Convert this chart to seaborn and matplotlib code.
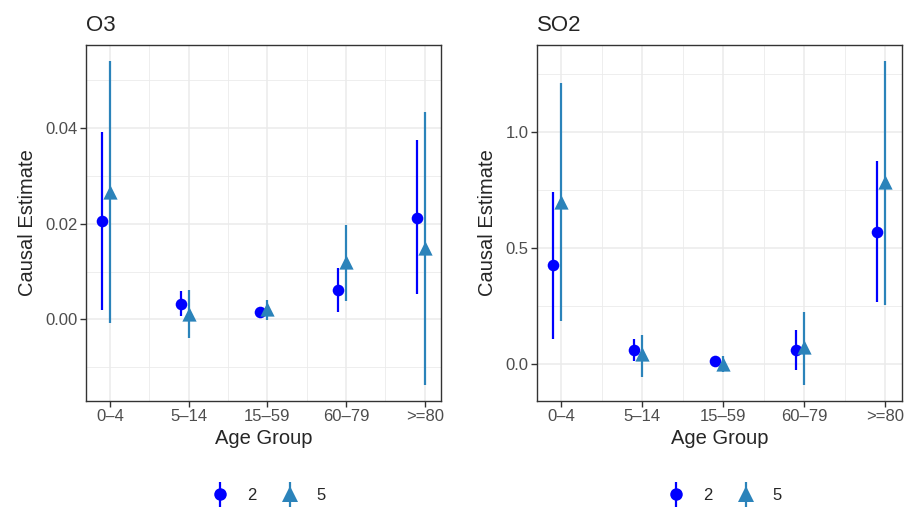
import matplotlib

matplotlib.use("Agg")

import matplotlib.pyplot as plt
import pandas as pd
import seaborn as sns
from matplotlib.legend_handler import HandlerTuple
from matplotlib.lines import Line2D
from matplotlib.ticker import FixedLocator, MultipleLocator, FormatStrFormatter

age_groups = ["0–4", "5–14", "15–59", "60–79", ">=80"]
lags = ["2", "5"]

# O3 estimates and intervals, lag 2 / lag 5
o3_est_2 = [0.0206, 0.0032, 0.0015, 0.0062, 0.0213]
o3_lo_2 = [0.0020, 0.0007, 0.0010, 0.0015, 0.0052]
o3_hi_2 = [0.0392, 0.0059, 0.0020, 0.0108, 0.0375]
o3_est_5 = [0.0267, 0.0012, 0.0022, 0.0119, 0.0150]
o3_lo_5 = [-0.0007, -0.0038, -0.0002, 0.0038, -0.0137]
o3_hi_5 = [0.0540, 0.0061, 0.0041, 0.0198, 0.0434]

# SO2 estimates and intervals, lag 2 / lag 5
so2_est_2 = [0.428, 0.063, 0.014, 0.063, 0.572]
so2_lo_2 = [0.109, 0.013, 0.005, -0.023, 0.269]
so2_hi_2 = [0.745, 0.111, 0.024, 0.147, 0.878]
so2_est_5 = [0.700, 0.043, 0.000, 0.075, 0.788]
so2_lo_5 = [0.187, -0.055, -0.033, -0.088, 0.255]
so2_hi_5 = [1.213, 0.125, 0.035, 0.225, 1.307]

colors = {"2": "#0000FF", "5": "#2B83BA"}
markers = {"2": "o", "5": "^"}
sizes = {"2": 70, "5": 105}
offsets = {"2": -0.1, "5": 0.0}


def make_frame(name, series):
    rows = []
    for lag, (est, lo, hi) in series.items():
        for i, age in enumerate(age_groups):
            rows.append({"pollutant": name, "age": age, "lag": lag,
                         "est": est[i], "lo": lo[i], "hi": hi[i]})
    return pd.DataFrame(rows)


df = pd.concat([
    make_frame("O3", {"2": (o3_est_2, o3_lo_2, o3_hi_2),
                      "5": (o3_est_5, o3_lo_5, o3_hi_5)}),
    make_frame("SO2", {"2": (so2_est_2, so2_lo_2, so2_hi_2),
                       "5": (so2_est_5, so2_lo_5, so2_hi_5)}),
], ignore_index=True)
df["xpos"] = df["age"].map({a: i for i, a in enumerate(age_groups)}) + df["lag"].map(offsets)

sns.set_theme(style="white")
plt.rcParams["font.family"] = ["Liberation Sans", "DejaVu Sans"]

fig = plt.figure(figsize=(9.1, 5.08), dpi=100)
panels = {
    "O3": ([0.0945, 0.2106, 0.3901, 0.7008], 0.02, 0.01, "%.2f"),
    "SO2": ([0.5898, 0.2106, 0.4014, 0.7008], 0.5, 0.25, "%.1f"),
}

for name, (rect, major, minor, fmt) in panels.items():
    ax = fig.add_axes(rect)
    sub = df[df["pollutant"] == name]
    for lag in lags:
        part = sub[sub["lag"] == lag]
        ax.vlines(part["xpos"], part["lo"], part["hi"], color=colors[lag], lw=1.6, zorder=2)
        sns.scatterplot(data=part, x="xpos", y="est", color=colors[lag], marker=markers[lag],
                        s=sizes[lag], linewidth=0, legend=False, ax=ax, zorder=3)

    xmin, xmax = sub["xpos"].min(), sub["xpos"].max()
    ymin, ymax = sub["lo"].min(), sub["hi"].max()
    ax.set_xlim(xmin - 0.05 * (xmax - xmin), xmax + 0.05 * (xmax - xmin))
    ax.set_ylim(ymin - 0.05 * (ymax - ymin), ymax + 0.05 * (ymax - ymin))

    ax.set_xticks(range(len(age_groups)))
    ax.set_xticklabels(age_groups)
    ax.xaxis.set_minor_locator(FixedLocator([i + 0.5 for i in range(len(age_groups) - 1)]))
    ax.yaxis.set_major_locator(MultipleLocator(major))
    ax.yaxis.set_minor_locator(MultipleLocator(minor))
    ax.yaxis.set_major_formatter(FormatStrFormatter(fmt))

    ax.grid(which="major", color="#EBEBEB", lw=1.1, zorder=0)
    ax.grid(which="minor", color="#EBEBEB", lw=0.6, zorder=0)
    ax.set_axisbelow(True)
    for spine in ax.spines.values():
        spine.set_color("#333333")
        spine.set_linewidth(1.0)
    ax.tick_params(which="major", length=4, width=1, color="#333333",
                   labelsize=12, labelcolor="#4D4D4D", left=True, bottom=True, pad=2)
    ax.tick_params(which="minor", length=0)

    ax.set_title(name, loc="left", fontsize=16, pad=10)
    ax.set_xlabel("Age Group", fontsize=14.5, labelpad=3)
    ax.set_ylabel("Causal Estimate", fontsize=14.5, labelpad=6)

    handles = [
        (Line2D([], [], color=colors[lag], marker="|", markersize=18, markeredgewidth=1.6, linestyle="None"),
         Line2D([], [], color=colors[lag], marker=markers[lag], markersize=9 if lag == "2" else 11,
                markeredgewidth=0, linestyle="None"))
        for lag in lags
    ]
    ax.legend(handles, lags, handler_map={tuple: HandlerTuple(ndivide=1)},
              loc="center", bbox_to_anchor=(0.515, -0.264), ncol=2, frameon=False,
              fontsize=12, handlelength=1.0, handletextpad=1.1, columnspacing=1.5)

fig.savefig("out.png", dpi=100)
